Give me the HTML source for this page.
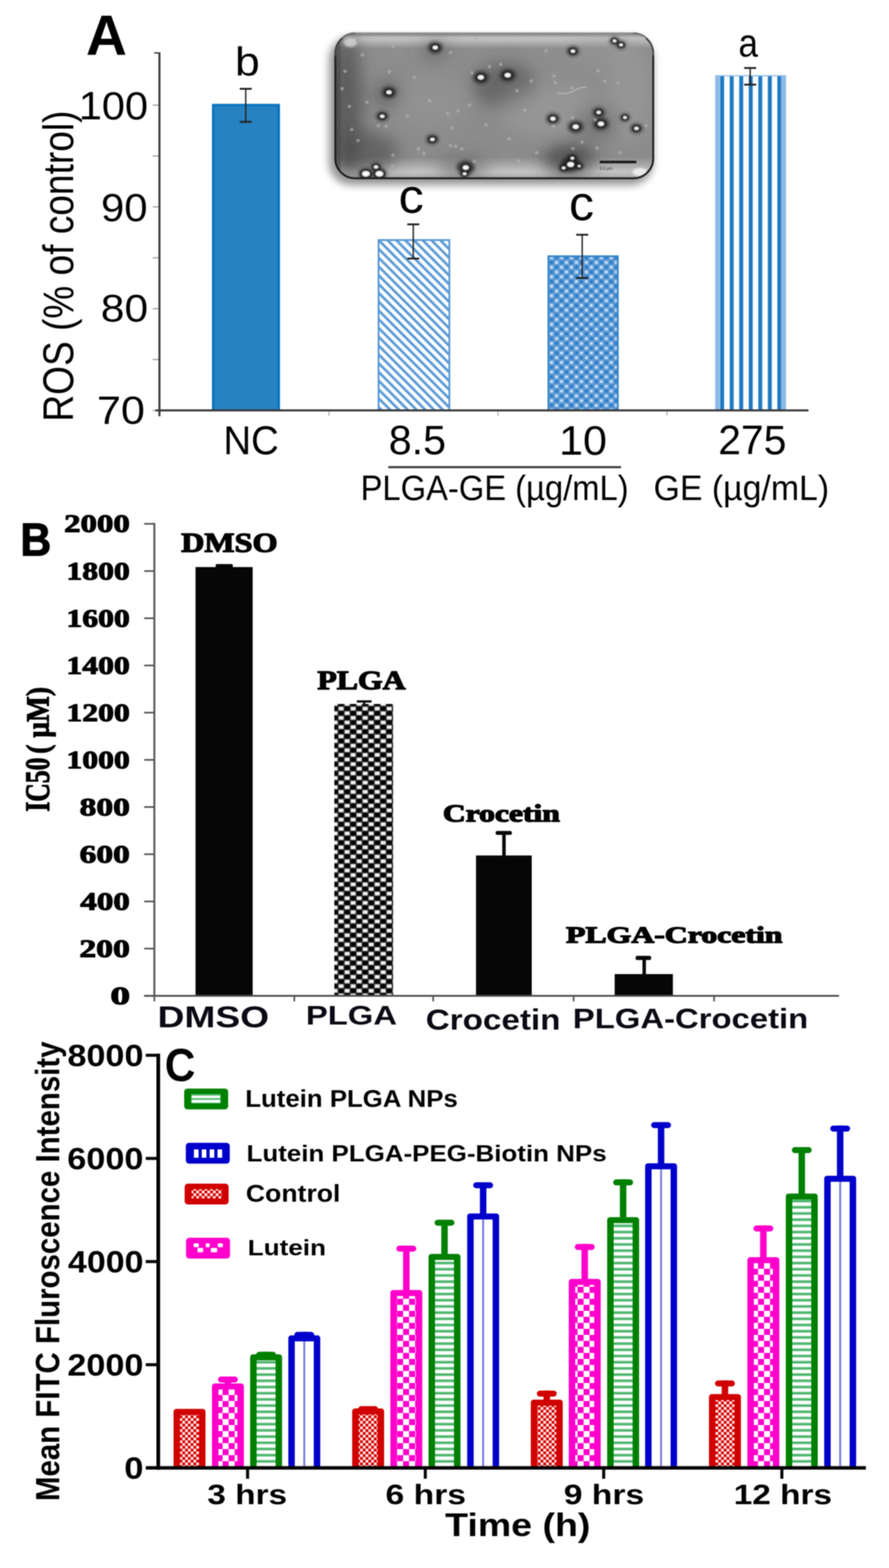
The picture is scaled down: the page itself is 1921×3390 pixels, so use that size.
<!DOCTYPE html>
<html><head><meta charset="utf-8"><title>Figure</title>
<style>html,body{margin:0;padding:0;background:#fff;} body{width:1921px;height:3390px;overflow:hidden;} svg{display:block;filter:blur(1px);}</style>
</head><body>
<svg width="1921" height="3390" viewBox="0 0 1921 3390"><defs>
<pattern id="pDiag" patternUnits="userSpaceOnUse" width="19" height="19" patternTransform="translate(817,518)">
  <rect width="19" height="19" fill="#fff"/>
  <path d="M-5,-5 L24,24 M-5,14 L5,24 M14,-5 L24,5" stroke="#5e9dd7" stroke-width="5.8"/>
</pattern>
<pattern id="pDots" patternUnits="userSpaceOnUse" width="21.5" height="20.6" patternTransform="translate(1186.5,552)">
  <rect width="21.5" height="20.6" fill="#5d9ad6"/>
  <rect x="2" y="2" width="6.75" height="6.3" fill="#c6dcf2"/>
  <rect x="12.75" y="12.3" width="6.75" height="6.3" fill="#c6dcf2"/>
  <rect x="12.75" y="2" width="6.75" height="6.3" fill="#2a7cc6"/>
  <rect x="2" y="12.3" width="6.75" height="6.3" fill="#2a7cc6"/>
</pattern>
<pattern id="pVert" patternUnits="userSpaceOnUse" width="20.6" height="10" patternTransform="translate(1556.2,0)">
  <rect width="20.6" height="10" fill="#fbfdff"/>
  <rect x="0" width="8.5" height="10" fill="#1f78c2"/>
</pattern>
<pattern id="pChkB" patternUnits="userSpaceOnUse" width="26" height="20" patternTransform="translate(730.6,1527)">
  <rect width="26" height="20" fill="#f2f2f2"/>
  <rect x="13" y="0" width="13" height="10" fill="#000"/>
  <rect x="0" y="10" width="13" height="10" fill="#000"/>
  <path d="M0,0 H26 M0,10 H26 M0,20 H26 M0,0 V20 M13,0 V20 M26,0 V20" stroke="#333" stroke-width="2.5"/>
</pattern>
<pattern id="pRed" patternUnits="userSpaceOnUse" width="12" height="12" patternTransform="translate(388,0)">
  <rect width="12" height="12" fill="#fbe6e6"/>
  <rect width="6" height="6" fill="#d40000"/>
  <rect x="6" y="6" width="6" height="6" fill="#d40000"/>
</pattern>
<pattern id="pMag" patternUnits="userSpaceOnUse" width="26" height="26">
  <rect width="26" height="26" fill="#fff"/>
  <rect width="13" height="13" fill="#ff00cc"/>
  <rect x="13" y="13" width="13" height="13" fill="#ff00cc"/>
</pattern>
<pattern id="pGreen" patternUnits="userSpaceOnUse" width="10" height="13.4">
  <rect width="10" height="13.4" fill="#fff"/>
  <rect y="7.6" width="10" height="5.8" fill="#52b872"/>
</pattern>
<filter id="blur1" x="-5%" y="-5%" width="110%" height="110%"><feGaussianBlur stdDeviation="0.8"/></filter>
<filter id="blur3" x="-50%" y="-50%" width="200%" height="200%"><feGaussianBlur stdDeviation="3.5"/></filter>
<filter id="blur2" x="-50%" y="-50%" width="200%" height="200%"><feGaussianBlur stdDeviation="2"/></filter>
<filter id="blurS" x="-20%" y="-20%" width="140%" height="140%"><feGaussianBlur stdDeviation="9"/></filter>
<filter id="blurBg" x="-10%" y="-10%" width="120%" height="120%"><feGaussianBlur stdDeviation="18"/></filter>
<filter id="noise" x="0" y="0" width="100%" height="100%"><feTurbulence type="fractalNoise" baseFrequency="0.35" numOctaves="2" seed="3"/><feColorMatrix type="saturate" values="0"/></filter>
<clipPath id="temClip"><rect x="723" y="70" width="690" height="317" rx="44" ry="44"/></clipPath>
<linearGradient id="temTop" x1="0" y1="0" x2="0" y2="1">
  <stop offset="0" stop-color="#707070"/>
  <stop offset="0.015" stop-color="#8a8a8a"/>
  <stop offset="0.035" stop-color="#c2c2c2"/>
  <stop offset="0.06" stop-color="#b8b8b8"/>
  <stop offset="0.11" stop-color="#8c8c8c"/>
  <stop offset="0.85" stop-color="#8a8a8a"/>
  <stop offset="0.95" stop-color="#c4c4c4"/>
  <stop offset="0.985" stop-color="#b0b0b0"/>
  <stop offset="1" stop-color="#303030"/>
</linearGradient>
</defs><rect width="1921" height="3390" fill="#fff"/><g>
<rect x="711" y="80" width="700" height="320" rx="48" fill="#000" opacity="0.42" filter="url(#blurS)"/>
<g clip-path="url(#temClip)">
<rect x="722" y="70" width="692" height="317" fill="url(#temTop)"/>
<g filter="url(#blurBg)">
<ellipse cx="748" cy="230" rx="35" ry="160" fill="#454545" opacity="0.75"/>
<ellipse cx="790" cy="330" rx="70" ry="45" fill="#454545" opacity="0.6"/>
<ellipse cx="1090" cy="185" rx="70" ry="50" fill="#4a4a4a" opacity="0.6"/>
<ellipse cx="1230" cy="345" rx="55" ry="38" fill="#2e2e2e" opacity="0.65"/>
<ellipse cx="1000" cy="365" rx="55" ry="25" fill="#454545" opacity="0.45"/>
<ellipse cx="840" cy="205" rx="30" ry="30" fill="#404040" opacity="0.55"/>
<ellipse cx="940" cy="110" rx="28" ry="22" fill="#4a4a4a" opacity="0.5"/>
<ellipse cx="1190" cy="240" rx="110" ry="55" fill="#9c9c9c" opacity="0.55"/>
<ellipse cx="930" cy="225" rx="80" ry="55" fill="#979797" opacity="0.45"/>
<ellipse cx="1360" cy="200" rx="45" ry="110" fill="#9e9e9e" opacity="0.5"/>
<ellipse cx="1300" cy="110" rx="60" ry="30" fill="#9a9a9a" opacity="0.4"/>
<ellipse cx="1290" cy="265" rx="45" ry="35" fill="#555555" opacity="0.5"/>
</g>
<rect x="722" y="70" width="692" height="317" filter="url(#noise)" opacity="0.10"/>
<rect x="722" y="71" width="14" height="316" fill="#3a3a3a" opacity="0.5" filter="url(#blur2)"/>
<ellipse cx="757" cy="92" rx="14" ry="10" fill="#d8d8d8" opacity="0.8" filter="url(#blur2)"/>
<ellipse cx="1383" cy="372" rx="16" ry="9" fill="#f0f0f0" opacity="0.9" filter="url(#blur2)"/>
<ellipse cx="940.5" cy="102.7" rx="15.6" ry="12.3" fill="#141414" opacity="0.7" filter="url(#blur3)"/>
<ellipse cx="840.6" cy="199.5" rx="15.6" ry="12.3" fill="#141414" opacity="0.7" filter="url(#blur3)"/>
<ellipse cx="826" cy="251.4" rx="13.2" ry="10.4" fill="#141414" opacity="0.7" filter="url(#blur3)"/>
<ellipse cx="1039" cy="167.3" rx="16.8" ry="13.3" fill="#141414" opacity="0.7" filter="url(#blur3)"/>
<ellipse cx="1097" cy="162.6" rx="16.8" ry="13.3" fill="#141414" opacity="0.7" filter="url(#blur3)"/>
<ellipse cx="934.4" cy="301.4" rx="13.2" ry="10.4" fill="#141414" opacity="0.7" filter="url(#blur3)"/>
<ellipse cx="1006.4" cy="362.3" rx="19.2" ry="15.2" fill="#141414" opacity="0.7" filter="url(#blur3)"/>
<ellipse cx="790.6" cy="375.7" rx="15.6" ry="12.3" fill="#141414" opacity="0.7" filter="url(#blur3)"/>
<ellipse cx="819.8" cy="375.7" rx="15.6" ry="12.3" fill="#141414" opacity="0.7" filter="url(#blur3)"/>
<ellipse cx="812.5" cy="361" rx="10.8" ry="8.5" fill="#141414" opacity="0.7" filter="url(#blur3)"/>
<ellipse cx="1238" cy="110.7" rx="13.2" ry="10.4" fill="#141414" opacity="0.7" filter="url(#blur3)"/>
<ellipse cx="1328" cy="88.4" rx="10.8" ry="8.5" fill="#141414" opacity="0.7" filter="url(#blur3)"/>
<ellipse cx="1342" cy="97" rx="10.8" ry="8.5" fill="#141414" opacity="0.7" filter="url(#blur3)"/>
<ellipse cx="1194.8" cy="256.6" rx="14.4" ry="11.4" fill="#141414" opacity="0.7" filter="url(#blur3)"/>
<ellipse cx="1244" cy="274" rx="16.8" ry="13.3" fill="#141414" opacity="0.7" filter="url(#blur3)"/>
<ellipse cx="1293.7" cy="243" rx="13.2" ry="10.4" fill="#141414" opacity="0.7" filter="url(#blur3)"/>
<ellipse cx="1298.6" cy="267.7" rx="16.8" ry="13.3" fill="#141414" opacity="0.7" filter="url(#blur3)"/>
<ellipse cx="1375.3" cy="277.6" rx="13.2" ry="10.4" fill="#141414" opacity="0.7" filter="url(#blur3)"/>
<ellipse cx="1350.5" cy="254" rx="10.8" ry="8.5" fill="#141414" opacity="0.7" filter="url(#blur3)"/>
<ellipse cx="1233" cy="355.5" rx="20.4" ry="16.1" fill="#141414" opacity="0.7" filter="url(#blur3)"/>
<ellipse cx="1236.8" cy="342" rx="10.8" ry="8.5" fill="#141414" opacity="0.7" filter="url(#blur3)"/>
<ellipse cx="1218" cy="363" rx="10.8" ry="8.5" fill="#141414" opacity="0.7" filter="url(#blur3)"/>
<ellipse cx="1251.6" cy="359" rx="9.6" ry="7.6" fill="#141414" opacity="0.7" filter="url(#blur3)"/>
<ellipse cx="1004" cy="375.7" rx="9.6" ry="7.6" fill="#141414" opacity="0.7" filter="url(#blur3)"/>
<g filter="url(#blur1)">
<ellipse cx="940.5" cy="102.7" rx="9.9" ry="8.0" fill="#161616" opacity="0.85"/>
<ellipse cx="940.5" cy="102.7" rx="6.0" ry="4.3" fill="#fbfbfb"/>
<ellipse cx="840.6" cy="199.5" rx="9.9" ry="8.0" fill="#161616" opacity="0.85"/>
<ellipse cx="840.6" cy="199.5" rx="6.0" ry="4.3" fill="#fbfbfb"/>
<ellipse cx="826" cy="251.4" rx="9.1" ry="7.3" fill="#161616" opacity="0.85"/>
<ellipse cx="826" cy="251.4" rx="5.1" ry="3.7" fill="#fbfbfb"/>
<ellipse cx="1039" cy="167.3" rx="10.8" ry="8.6" fill="#161616" opacity="0.85"/>
<ellipse cx="1039" cy="167.3" rx="6.8" ry="5.0" fill="#fbfbfb"/>
<ellipse cx="1097" cy="162.6" rx="10.8" ry="8.6" fill="#161616" opacity="0.85"/>
<ellipse cx="1097" cy="162.6" rx="6.8" ry="5.0" fill="#fbfbfb"/>
<ellipse cx="934.4" cy="301.4" rx="9.1" ry="7.3" fill="#161616" opacity="0.85"/>
<ellipse cx="934.4" cy="301.4" rx="5.1" ry="3.7" fill="#fbfbfb"/>
<ellipse cx="1006.4" cy="362.3" rx="10.8" ry="8.6" fill="#161616" opacity="0.85"/>
<ellipse cx="1006.4" cy="362.3" rx="6.8" ry="5.0" fill="#fbfbfb"/>
<ellipse cx="790.6" cy="375.7" rx="12.5" ry="10.0" fill="#161616" opacity="0.85"/>
<ellipse cx="790.6" cy="375.7" rx="8.5" ry="6.2" fill="#fbfbfb"/>
<ellipse cx="819.8" cy="375.7" rx="12.5" ry="10.0" fill="#161616" opacity="0.85"/>
<ellipse cx="819.8" cy="375.7" rx="8.5" ry="6.2" fill="#fbfbfb"/>
<ellipse cx="812.5" cy="361" rx="9.1" ry="7.3" fill="#161616" opacity="0.85"/>
<ellipse cx="812.5" cy="361" rx="5.1" ry="3.7" fill="#fbfbfb"/>
<ellipse cx="1238" cy="110.7" rx="9.1" ry="7.3" fill="#161616" opacity="0.85"/>
<ellipse cx="1238" cy="110.7" rx="5.1" ry="3.7" fill="#fbfbfb"/>
<ellipse cx="1328" cy="88.4" rx="8.2" ry="6.6" fill="#161616" opacity="0.85"/>
<ellipse cx="1328" cy="88.4" rx="4.2" ry="3.1" fill="#fbfbfb"/>
<ellipse cx="1342" cy="97" rx="8.2" ry="6.6" fill="#161616" opacity="0.85"/>
<ellipse cx="1342" cy="97" rx="4.2" ry="3.1" fill="#fbfbfb"/>
<ellipse cx="1194.8" cy="256.6" rx="9.9" ry="8.0" fill="#161616" opacity="0.85"/>
<ellipse cx="1194.8" cy="256.6" rx="6.0" ry="4.3" fill="#fbfbfb"/>
<ellipse cx="1244" cy="274" rx="10.8" ry="8.6" fill="#161616" opacity="0.85"/>
<ellipse cx="1244" cy="274" rx="6.8" ry="5.0" fill="#fbfbfb"/>
<ellipse cx="1293.7" cy="243" rx="9.1" ry="7.3" fill="#161616" opacity="0.85"/>
<ellipse cx="1293.7" cy="243" rx="5.1" ry="3.7" fill="#fbfbfb"/>
<ellipse cx="1298.6" cy="267.7" rx="10.8" ry="8.6" fill="#161616" opacity="0.85"/>
<ellipse cx="1298.6" cy="267.7" rx="6.8" ry="5.0" fill="#fbfbfb"/>
<ellipse cx="1375.3" cy="277.6" rx="9.1" ry="7.3" fill="#161616" opacity="0.85"/>
<ellipse cx="1375.3" cy="277.6" rx="5.1" ry="3.7" fill="#fbfbfb"/>
<ellipse cx="1350.5" cy="254" rx="8.2" ry="6.6" fill="#161616" opacity="0.85"/>
<ellipse cx="1350.5" cy="254" rx="4.2" ry="3.1" fill="#fbfbfb"/>
<ellipse cx="1233" cy="355.5" rx="11.6" ry="9.3" fill="#161616" opacity="0.85"/>
<ellipse cx="1233" cy="355.5" rx="7.6" ry="5.6" fill="#fbfbfb"/>
<ellipse cx="1236.8" cy="342" rx="8.2" ry="6.6" fill="#161616" opacity="0.85"/>
<ellipse cx="1236.8" cy="342" rx="4.2" ry="3.1" fill="#fbfbfb"/>
<ellipse cx="1218" cy="363" rx="8.2" ry="6.6" fill="#161616" opacity="0.85"/>
<ellipse cx="1218" cy="363" rx="4.2" ry="3.1" fill="#fbfbfb"/>
<ellipse cx="1251.6" cy="359" rx="7.4" ry="5.9" fill="#161616" opacity="0.85"/>
<ellipse cx="1251.6" cy="359" rx="3.4" ry="2.5" fill="#fbfbfb"/>
<ellipse cx="1004" cy="375.7" rx="8.2" ry="6.6" fill="#161616" opacity="0.85"/>
<ellipse cx="1004" cy="375.7" rx="4.2" ry="3.1" fill="#fbfbfb"/>
<circle cx="745.5" cy="153.9" r="3.5" fill="#b4b4b4" opacity="0.75"/>
<circle cx="841.8" cy="155.6" r="3.5" fill="#b4b4b4" opacity="0.75"/>
<circle cx="895.4" cy="167.3" r="3.5" fill="#b4b4b4" opacity="0.75"/>
<circle cx="928.3" cy="217.3" r="3.5" fill="#b4b4b4" opacity="0.75"/>
<circle cx="1014.9" cy="227" r="3.5" fill="#b4b4b4" opacity="0.75"/>
<circle cx="989.3" cy="239.2" r="3.5" fill="#b4b4b4" opacity="0.75"/>
<circle cx="967.4" cy="245.3" r="3.5" fill="#b4b4b4" opacity="0.75"/>
<circle cx="793" cy="221" r="3.5" fill="#b4b4b4" opacity="0.75"/>
<circle cx="834.5" cy="273.3" r="3.5" fill="#b4b4b4" opacity="0.75"/>
<circle cx="817.4" cy="272" r="3.5" fill="#b4b4b4" opacity="0.75"/>
<circle cx="773.5" cy="303.8" r="3.5" fill="#b4b4b4" opacity="0.75"/>
<circle cx="973.4" cy="314.8" r="3.5" fill="#b4b4b4" opacity="0.75"/>
<circle cx="984.4" cy="316" r="3.5" fill="#b4b4b4" opacity="0.75"/>
<circle cx="997.8" cy="322" r="3.5" fill="#b4b4b4" opacity="0.75"/>
<circle cx="904" cy="322" r="3.5" fill="#b4b4b4" opacity="0.75"/>
<circle cx="916" cy="331.9" r="3.5" fill="#b4b4b4" opacity="0.75"/>
<circle cx="849" cy="335.5" r="3.5" fill="#b4b4b4" opacity="0.75"/>
<circle cx="847.9" cy="358.7" r="3.5" fill="#b4b4b4" opacity="0.75"/>
<circle cx="739.4" cy="191.7" r="3.5" fill="#b4b4b4" opacity="0.75"/>
<circle cx="783.3" cy="118.5" r="3.5" fill="#b4b4b4" opacity="0.75"/>
<circle cx="849" cy="100.2" r="3.5" fill="#b4b4b4" opacity="0.75"/>
<circle cx="973.4" cy="113.6" r="3.5" fill="#b4b4b4" opacity="0.75"/>
<circle cx="1057.6" cy="144" r="3.5" fill="#b4b4b4" opacity="0.75"/>
<circle cx="1030.7" cy="84.4" r="3.5" fill="#b4b4b4" opacity="0.75"/>
<circle cx="977" cy="277" r="3.5" fill="#b4b4b4" opacity="0.75"/>
<circle cx="1024.7" cy="349" r="3.5" fill="#b4b4b4" opacity="0.75"/>
<circle cx="1082" cy="139" r="3.5" fill="#b4b4b4" opacity="0.75"/>
<circle cx="1197" cy="164" r="3.5" fill="#b4b4b4" opacity="0.75"/>
<circle cx="1199.7" cy="178.7" r="3.5" fill="#b4b4b4" opacity="0.75"/>
<circle cx="1307" cy="176" r="3.5" fill="#b4b4b4" opacity="0.75"/>
<circle cx="1335.7" cy="178.7" r="3.5" fill="#b4b4b4" opacity="0.75"/>
<circle cx="1292.4" cy="152.7" r="3.5" fill="#b4b4b4" opacity="0.75"/>
<circle cx="1235.6" cy="190" r="3.5" fill="#b4b4b4" opacity="0.75"/>
<circle cx="1117" cy="196" r="3.5" fill="#b4b4b4" opacity="0.75"/>
<circle cx="1147.8" cy="175" r="3.5" fill="#b4b4b4" opacity="0.75"/>
<circle cx="1134" cy="238" r="3.5" fill="#b4b4b4" opacity="0.75"/>
<circle cx="1120.6" cy="348" r="3.5" fill="#b4b4b4" opacity="0.75"/>
<circle cx="1238" cy="321" r="3.5" fill="#b4b4b4" opacity="0.75"/>
<circle cx="1257.8" cy="307" r="3.5" fill="#b4b4b4" opacity="0.75"/>
<circle cx="1396" cy="271.4" r="3.5" fill="#b4b4b4" opacity="0.75"/>
<circle cx="1236.8" cy="255" r="3.5" fill="#b4b4b4" opacity="0.75"/>
<circle cx="1196" cy="272.7" r="3.5" fill="#b4b4b4" opacity="0.75"/>
<circle cx="1286" cy="259" r="3.5" fill="#b4b4b4" opacity="0.75"/>
<circle cx="1019.8" cy="157.5" r="3.5" fill="#b4b4b4" opacity="0.75"/>
<circle cx="755" cy="230" r="3.5" fill="#b4b4b4" opacity="0.75"/>
<circle cx="760" cy="280" r="3.5" fill="#b4b4b4" opacity="0.75"/>
<circle cx="1100" cy="300" r="3.5" fill="#b4b4b4" opacity="0.75"/>
<circle cx="1160" cy="330" r="3.5" fill="#b4b4b4" opacity="0.75"/>
<circle cx="880" cy="250" r="3.5" fill="#b4b4b4" opacity="0.75"/>
<circle cx="1050" cy="270" r="3.5" fill="#b4b4b4" opacity="0.75"/>
<circle cx="1180" cy="110" r="3.5" fill="#b4b4b4" opacity="0.75"/>
<circle cx="1290" cy="320" r="3.5" fill="#b4b4b4" opacity="0.75"/>
<circle cx="1340" cy="330" r="3.5" fill="#b4b4b4" opacity="0.75"/>
</g>
<path d="M1203,201 Q1225,205 1240,196 Q1255,188 1268,188" stroke="#b8b8b8" stroke-width="3" fill="none" opacity="0.8"/>
<rect x="1296" y="347.5" width="79" height="5.5" fill="#1a1a1a"/>
<text x="1296" y="367" font-family="Liberation Sans, sans-serif" font-size="9" fill="#333">0.2 µm</text>
</g>
<rect x="724.5" y="71.5" width="687" height="314" rx="43" ry="43" fill="none" stroke="#6a6a6a" stroke-width="3"/>
<path d="M724.5,120 V342.5 A43,43 0 0 0 767.5,385.5 H1368.5 A43,43 0 0 0 1411.5,342.5 V120" fill="none" stroke="#1c1c1c" stroke-width="4"/>
<path d="M724.5,125 V110 A43,43 0 0 1 740,83" fill="none" stroke="#333" stroke-width="3.5" opacity="0.8"/>
<path d="M1411.5,125 V110 A43,43 0 0 0 1396,83" fill="none" stroke="#333" stroke-width="3.5" opacity="0.8"/>
<rect x="768" y="70" width="600" height="3.5" fill="#929292"/>
</g>
<line x1="330" y1="227.3" x2="344" y2="227.3" stroke="#9a9a9a" stroke-width="2.5" />
<line x1="330" y1="337.3" x2="344" y2="337.3" stroke="#9a9a9a" stroke-width="2.5" />
<line x1="330" y1="447.3" x2="344" y2="447.3" stroke="#9a9a9a" stroke-width="2.5" />
<line x1="330" y1="557.3" x2="344" y2="557.3" stroke="#9a9a9a" stroke-width="2.5" />
<line x1="330" y1="667.3" x2="344" y2="667.3" stroke="#9a9a9a" stroke-width="2.5" />
<line x1="330" y1="777.3" x2="344" y2="777.3" stroke="#9a9a9a" stroke-width="2.5" />
<line x1="330" y1="887.3" x2="344" y2="887.3" stroke="#9a9a9a" stroke-width="2.5" />
<line x1="333" y1="114.5" x2="344" y2="114.5" stroke="#3a3a3a" stroke-width="3" />
<line x1="711" y1="887" x2="711" y2="899" stroke="#b0b0b0" stroke-width="2.5" />
<line x1="1076" y1="887" x2="1076" y2="899" stroke="#b0b0b0" stroke-width="2.5" />
<line x1="1441" y1="887" x2="1441" y2="899" stroke="#b0b0b0" stroke-width="2.5" />
<rect x="458" y="224.5" width="147" height="663" fill="#0a74be" />
<rect x="463.5" y="229.5" width="136" height="658" fill="#2682c1" />
<rect x="818" y="519" width="153" height="368" fill="url(#pDiag)" stroke="#5a9bd6" stroke-width="4"/>
<rect x="1185" y="554" width="150" height="333" fill="url(#pDots)" stroke="#3a88cc" stroke-width="4"/>
<rect x="1545.5" y="162.5" width="153" height="724.8" fill="#8dbbe6" />
<rect x="1555.5" y="165" width="133" height="722.3" fill="url(#pVert)" />
<line x1="344.5" y1="113" x2="344.5" y2="900" stroke="#3a3a3a" stroke-width="4.5" />
<line x1="336" y1="887.3" x2="1747" y2="887.3" stroke="#3a3a3a" stroke-width="4.5" />
<line x1="531" y1="192" x2="531" y2="263.5" stroke="#222" stroke-width="3" />
<line x1="518" y1="192" x2="544" y2="192" stroke="#222" stroke-width="4" />
<line x1="518" y1="263.5" x2="544" y2="263.5" stroke="#222" stroke-width="4" />
<line x1="893" y1="485" x2="893" y2="559" stroke="#222" stroke-width="3" />
<line x1="880" y1="485" x2="906" y2="485" stroke="#222" stroke-width="4" />
<line x1="880" y1="559" x2="906" y2="559" stroke="#222" stroke-width="4" />
<line x1="1258" y1="507.5" x2="1258" y2="601" stroke="#222" stroke-width="3" />
<line x1="1245" y1="507.5" x2="1271" y2="507.5" stroke="#222" stroke-width="4" />
<line x1="1245" y1="601" x2="1271" y2="601" stroke="#222" stroke-width="4" />
<line x1="1621" y1="147" x2="1621" y2="183" stroke="#222" stroke-width="3" />
<line x1="1608" y1="147" x2="1634" y2="147" stroke="#222" stroke-width="4" />
<line x1="1608" y1="183" x2="1634" y2="183" stroke="#222" stroke-width="4" />
<text x="185.65" y="119.00" font-family="Liberation Sans, Arial, sans-serif" font-weight="bold" font-size="123.11" textLength="88.59" lengthAdjust="spacingAndGlyphs" fill="#000" >A</text>
<text x="170.15" y="257.97" font-family="Liberation Sans, Arial, sans-serif" font-weight="normal" font-size="84.74" textLength="149.96" lengthAdjust="spacingAndGlyphs" fill="#000" >100</text>
<text x="218.26" y="477.97" font-family="Liberation Sans, Arial, sans-serif" font-weight="normal" font-size="84.74" textLength="100.68" lengthAdjust="spacingAndGlyphs" fill="#000" >90</text>
<text x="217.81" y="695.48" font-family="Liberation Sans, Arial, sans-serif" font-weight="normal" font-size="84.04" textLength="102.18" lengthAdjust="spacingAndGlyphs" fill="#000" >80</text>
<text x="209.52" y="916.17" font-family="Liberation Sans, Arial, sans-serif" font-weight="normal" font-size="84.74" textLength="103.72" lengthAdjust="spacingAndGlyphs" fill="#000" >70</text>
<text transform="translate(157.50,911.57) rotate(-90)" x="0" y="0" font-family="Liberation Sans, Arial, sans-serif" font-weight="normal" font-size="93.00" textLength="672.54" lengthAdjust="spacingAndGlyphs" fill="#000" >ROS (% of control)</text>
<text x="507.79" y="163.34" font-family="Liberation Sans, Arial, sans-serif" font-weight="normal" font-size="87.97" textLength="53.55" lengthAdjust="spacingAndGlyphs" fill="#000" >b</text>
<text x="861.37" y="459.99" font-family="Liberation Sans, Arial, sans-serif" font-weight="normal" font-size="103.31" textLength="54.51" lengthAdjust="spacingAndGlyphs" fill="#000" >c</text>
<text x="1229.42" y="476.27" font-family="Liberation Sans, Arial, sans-serif" font-weight="normal" font-size="105.14" textLength="53.93" lengthAdjust="spacingAndGlyphs" fill="#000" >c</text>
<text x="1595.77" y="122.16" font-family="Liberation Sans, Arial, sans-serif" font-weight="normal" font-size="85.79" textLength="42.23" lengthAdjust="spacingAndGlyphs" fill="#000" >a</text>
<text x="482.70" y="982.14" font-family="Liberation Sans, Arial, sans-serif" font-weight="normal" font-size="87.57" textLength="119.76" lengthAdjust="spacingAndGlyphs" fill="#000" >NC</text>
<text x="839.93" y="982.14" font-family="Liberation Sans, Arial, sans-serif" font-weight="normal" font-size="88.28" textLength="123.81" lengthAdjust="spacingAndGlyphs" fill="#000" >8.5</text>
<text x="1207.90" y="982.63" font-family="Liberation Sans, Arial, sans-serif" font-weight="normal" font-size="88.98" textLength="103.75" lengthAdjust="spacingAndGlyphs" fill="#000" >10</text>
<text x="1552.06" y="982.14" font-family="Liberation Sans, Arial, sans-serif" font-weight="normal" font-size="88.28" textLength="147.24" lengthAdjust="spacingAndGlyphs" fill="#000" >275</text>
<line x1="839" y1="1010" x2="1342" y2="1010" stroke="#3a3a3a" stroke-width="4.5" />
<text x="779.20" y="1081.42" font-family="Liberation Sans, Arial, sans-serif" font-weight="normal" font-size="75.10" textLength="579.19" lengthAdjust="spacingAndGlyphs" fill="#000" >PLGA-GE (µg/mL)</text>
<text x="1412.32" y="1081.42" font-family="Liberation Sans, Arial, sans-serif" font-weight="normal" font-size="75.10" textLength="379.21" lengthAdjust="spacingAndGlyphs" fill="#000" >GE (µg/mL)</text>
<line x1="311.5" y1="2153.0" x2="333.5" y2="2153.0" stroke="#505050" stroke-width="3.5" />
<line x1="311.5" y1="2050.9" x2="333.5" y2="2050.9" stroke="#505050" stroke-width="3.5" />
<line x1="311.5" y1="1948.9" x2="333.5" y2="1948.9" stroke="#505050" stroke-width="3.5" />
<line x1="311.5" y1="1846.8" x2="333.5" y2="1846.8" stroke="#505050" stroke-width="3.5" />
<line x1="311.5" y1="1744.8" x2="333.5" y2="1744.8" stroke="#505050" stroke-width="3.5" />
<line x1="311.5" y1="1642.8" x2="333.5" y2="1642.8" stroke="#505050" stroke-width="3.5" />
<line x1="311.5" y1="1540.7" x2="333.5" y2="1540.7" stroke="#505050" stroke-width="3.5" />
<line x1="311.5" y1="1438.7" x2="333.5" y2="1438.7" stroke="#505050" stroke-width="3.5" />
<line x1="311.5" y1="1336.6" x2="333.5" y2="1336.6" stroke="#505050" stroke-width="3.5" />
<line x1="311.5" y1="1234.6" x2="333.5" y2="1234.6" stroke="#505050" stroke-width="3.5" />
<line x1="311.5" y1="1132.5" x2="333.5" y2="1132.5" stroke="#505050" stroke-width="3.5" />
<line x1="333.5" y1="2153" x2="333.5" y2="2165" stroke="#505050" stroke-width="3.5" />
<line x1="636" y1="2153" x2="636" y2="2165" stroke="#505050" stroke-width="3.5" />
<line x1="936" y1="2153" x2="936" y2="2165" stroke="#505050" stroke-width="3.5" />
<line x1="1239.5" y1="2153" x2="1239.5" y2="2165" stroke="#505050" stroke-width="3.5" />
<line x1="1543" y1="2153" x2="1543" y2="2165" stroke="#505050" stroke-width="3.5" />
<rect x="422.5" y="1226" width="123.5" height="927" fill="#060606" />
<rect x="722.5" y="1522" width="127" height="631" fill="url(#pChkB)" />
<rect x="1028.6" y="1849.5" width="120.4" height="303.5" fill="#060606" />
<rect x="1328.2" y="2106" width="125.8" height="47" fill="#060606" />
<rect x="466" y="1219.5" width="37" height="9" rx="3" fill="#060606"/>
<line x1="787" y1="1516" x2="787" y2="1524" stroke="#111" stroke-width="5" />
<line x1="771" y1="1516.5" x2="803" y2="1516.5" stroke="#111" stroke-width="5" />
<line x1="1089" y1="1801" x2="1089" y2="1852" stroke="#060606" stroke-width="7.5" />
<rect x="1071" y="1796.5" width="35" height="8.5" rx="3.5" fill="#060606"/>
<line x1="1392" y1="2071" x2="1392" y2="2108" stroke="#060606" stroke-width="7.5" />
<rect x="1373.5" y="2066.5" width="33.5" height="9" rx="3.5" fill="#060606"/>
<line x1="333.5" y1="1130.5" x2="333.5" y2="2154.5" stroke="#505050" stroke-width="4" />
<line x1="311.5" y1="2153" x2="1813" y2="2153" stroke="#505050" stroke-width="4" />
<text x="44.01" y="1201.40" font-family="Liberation Sans, Arial, sans-serif" font-weight="bold" font-size="100.87" textLength="66.79" lengthAdjust="spacingAndGlyphs" fill="#000"  stroke="#000" stroke-width="2" stroke-linejoin="round">B</text>
<text x="238.46" y="2170.96" font-family="Liberation Serif, Times New Roman, serif" font-weight="bold" font-size="54.83" textLength="42.59" lengthAdjust="spacingAndGlyphs" fill="#000"  stroke="#000" stroke-width="2" stroke-linejoin="round">0</text>
<text x="171.45" y="2068.91" font-family="Liberation Serif, Times New Roman, serif" font-weight="bold" font-size="54.83" textLength="109.13" lengthAdjust="spacingAndGlyphs" fill="#000"  stroke="#000" stroke-width="2" stroke-linejoin="round">200</text>
<text x="173.52" y="1966.86" font-family="Liberation Serif, Times New Roman, serif" font-weight="bold" font-size="54.83" textLength="106.99" lengthAdjust="spacingAndGlyphs" fill="#000"  stroke="#000" stroke-width="2" stroke-linejoin="round">400</text>
<text x="172.03" y="1864.81" font-family="Liberation Serif, Times New Roman, serif" font-weight="bold" font-size="54.83" textLength="108.53" lengthAdjust="spacingAndGlyphs" fill="#000"  stroke="#000" stroke-width="2" stroke-linejoin="round">600</text>
<text x="172.10" y="1762.76" font-family="Liberation Serif, Times New Roman, serif" font-weight="bold" font-size="54.83" textLength="108.45" lengthAdjust="spacingAndGlyphs" fill="#000"  stroke="#000" stroke-width="2" stroke-linejoin="round">800</text>
<text x="143.52" y="1660.71" font-family="Liberation Serif, Times New Roman, serif" font-weight="bold" font-size="54.83" textLength="136.89" lengthAdjust="spacingAndGlyphs" fill="#000"  stroke="#000" stroke-width="2" stroke-linejoin="round">1000</text>
<text x="143.52" y="1558.66" font-family="Liberation Serif, Times New Roman, serif" font-weight="bold" font-size="54.83" textLength="136.89" lengthAdjust="spacingAndGlyphs" fill="#000"  stroke="#000" stroke-width="2" stroke-linejoin="round">1200</text>
<text x="143.52" y="1456.61" font-family="Liberation Serif, Times New Roman, serif" font-weight="bold" font-size="54.83" textLength="136.89" lengthAdjust="spacingAndGlyphs" fill="#000"  stroke="#000" stroke-width="2" stroke-linejoin="round">1400</text>
<text x="143.52" y="1354.56" font-family="Liberation Serif, Times New Roman, serif" font-weight="bold" font-size="54.83" textLength="136.89" lengthAdjust="spacingAndGlyphs" fill="#000"  stroke="#000" stroke-width="2" stroke-linejoin="round">1600</text>
<text x="143.52" y="1252.51" font-family="Liberation Serif, Times New Roman, serif" font-weight="bold" font-size="54.83" textLength="136.89" lengthAdjust="spacingAndGlyphs" fill="#000"  stroke="#000" stroke-width="2" stroke-linejoin="round">1800</text>
<text x="138.62" y="1150.46" font-family="Liberation Serif, Times New Roman, serif" font-weight="bold" font-size="54.83" textLength="141.88" lengthAdjust="spacingAndGlyphs" fill="#000"  stroke="#000" stroke-width="2" stroke-linejoin="round">2000</text>
<text transform="translate(106.28,1754.87) rotate(-90)" x="0" y="0" font-family="Liberation Serif, Times New Roman, serif" font-weight="bold" font-size="74.10" textLength="116.98" lengthAdjust="spacingAndGlyphs" fill="#000"  stroke="#000" stroke-width="2" stroke-linejoin="round">IC50</text>
<text transform="translate(104.97,1629.60) rotate(-90)" x="0" y="0" font-family="Liberation Serif, Times New Roman, serif" font-weight="bold" font-size="70.58" textLength="144.20" lengthAdjust="spacingAndGlyphs" fill="#000"  stroke="#000" stroke-width="2" stroke-linejoin="round">( µM)</text>
<text x="391.53" y="1193.18" font-family="Liberation Serif, Times New Roman, serif" font-weight="bold" font-size="58.79" textLength="208.11" lengthAdjust="spacingAndGlyphs" fill="#000"  stroke="#000" stroke-width="2.5" stroke-linejoin="round">DMSO</text>
<text x="685.78" y="1490.20" font-family="Liberation Serif, Times New Roman, serif" font-weight="bold" font-size="56.56" textLength="190.47" lengthAdjust="spacingAndGlyphs" fill="#000"  stroke="#000" stroke-width="2.5" stroke-linejoin="round">PLGA</text>
<text x="956.93" y="1776.23" font-family="Liberation Serif, Times New Roman, serif" font-weight="bold" font-size="53.30" textLength="252.85" lengthAdjust="spacingAndGlyphs" fill="#000"  stroke="#000" stroke-width="2.5" stroke-linejoin="round">Crocetin</text>
<text x="1223.08" y="2038.25" font-family="Liberation Serif, Times New Roman, serif" font-weight="bold" font-size="51.16" textLength="467.71" lengthAdjust="spacingAndGlyphs" fill="#000"  stroke="#000" stroke-width="2.5" stroke-linejoin="round">PLGA-Crocetin</text>
<text x="340.63" y="2221.36" font-family="Liberation Sans, Arial, sans-serif" font-weight="bold" font-size="65.25" textLength="240.74" lengthAdjust="spacingAndGlyphs" fill="#0a0a14" >DMSO</text>
<text x="660.96" y="2215.45" font-family="Liberation Sans, Arial, sans-serif" font-weight="bold" font-size="56.78" textLength="196.91" lengthAdjust="spacingAndGlyphs" fill="#0a0a14" >PLGA</text>
<text x="920.06" y="2226.39" font-family="Liberation Sans, Arial, sans-serif" font-weight="bold" font-size="62.64" textLength="290.99" lengthAdjust="spacingAndGlyphs" fill="#0a0a14" >Crocetin</text>
<text x="1237.85" y="2223.40" font-family="Liberation Sans, Arial, sans-serif" font-weight="bold" font-size="61.28" textLength="508.55" lengthAdjust="spacingAndGlyphs" fill="#0a0a14" >PLGA-Crocetin</text>
<rect x="375" y="3046" width="69" height="127.5" rx="6" fill="#d10000"/>
<rect x="389" y="3059" width="41" height="114.5" fill="url(#pRed)"/>
<line x1="492.5" y1="2976" x2="492.5" y2="2993" stroke="#ff00cc" stroke-width="14" />
<line x1="477.5" y1="2982.5" x2="507.5" y2="2982.5" stroke="#ff00cc" stroke-width="13" stroke-linecap="round"/>
<rect x="458" y="2991" width="69" height="182.5" rx="6" fill="#ff00cc"/>
<rect x="472" y="3004" width="41" height="169.5" fill="url(#pMag)"/>
<line x1="575.0" y1="2922.5" x2="575.0" y2="2930" stroke="#008000" stroke-width="14" />
<line x1="560.0" y1="2929.0" x2="590.0" y2="2929.0" stroke="#008000" stroke-width="13" stroke-linecap="round"/>
<rect x="540.5" y="2928" width="69" height="245.5" rx="6" fill="#008000"/>
<rect x="554.5" y="2941" width="41" height="232.5" fill="url(#pGreen)"/>
<line x1="657.5" y1="2879.5" x2="657.5" y2="2889" stroke="#0000cc" stroke-width="14" />
<line x1="642.5" y1="2886.0" x2="672.5" y2="2886.0" stroke="#0000cc" stroke-width="13" stroke-linecap="round"/>
<rect x="623" y="2887" width="69" height="286.5" rx="6" fill="#0000cc"/>
<rect x="637" y="2900" width="41" height="273.5" fill="#fff"/>
<line x1="657.5" y1="2900" x2="657.5" y2="3173.5" stroke="#7474e0" stroke-width="4" />
<line x1="795.5" y1="3040" x2="795.5" y2="3047" stroke="#d10000" stroke-width="14" />
<line x1="780.5" y1="3046.5" x2="810.5" y2="3046.5" stroke="#d10000" stroke-width="13" stroke-linecap="round"/>
<rect x="761" y="3045" width="69" height="128.5" rx="6" fill="#d10000"/>
<rect x="775" y="3058" width="41" height="115.5" fill="url(#pRed)"/>
<line x1="878.0" y1="2693" x2="878.0" y2="2791" stroke="#ff00cc" stroke-width="14" />
<line x1="863.0" y1="2699.5" x2="893.0" y2="2699.5" stroke="#ff00cc" stroke-width="13" stroke-linecap="round"/>
<rect x="843.5" y="2789" width="69" height="384.5" rx="6" fill="#ff00cc"/>
<rect x="857.5" y="2802" width="41" height="371.5" fill="url(#pMag)"/>
<line x1="960.5" y1="2637" x2="960.5" y2="2713" stroke="#008000" stroke-width="14" />
<line x1="945.5" y1="2643.5" x2="975.5" y2="2643.5" stroke="#008000" stroke-width="13" stroke-linecap="round"/>
<rect x="926" y="2711" width="69" height="462.5" rx="6" fill="#008000"/>
<rect x="940" y="2724" width="41" height="449.5" fill="url(#pGreen)"/>
<line x1="1044.0" y1="2556" x2="1044.0" y2="2625.5" stroke="#0000cc" stroke-width="14" />
<line x1="1029.0" y1="2562.5" x2="1059.0" y2="2562.5" stroke="#0000cc" stroke-width="13" stroke-linecap="round"/>
<rect x="1009.5" y="2623.5" width="69" height="550.0" rx="6" fill="#0000cc"/>
<rect x="1023.5" y="2636.5" width="41" height="537.0" fill="#fff"/>
<line x1="1044.0" y1="2636.5" x2="1044.0" y2="3173.5" stroke="#7474e0" stroke-width="4" />
<line x1="1181.5" y1="3006.5" x2="1181.5" y2="3028" stroke="#d10000" stroke-width="14" />
<line x1="1166.5" y1="3013.0" x2="1196.5" y2="3013.0" stroke="#d10000" stroke-width="13" stroke-linecap="round"/>
<rect x="1147" y="3026" width="69" height="147.5" rx="6" fill="#d10000"/>
<rect x="1161" y="3039" width="41" height="134.5" fill="url(#pRed)"/>
<line x1="1263.5" y1="2689.5" x2="1263.5" y2="2767" stroke="#ff00cc" stroke-width="14" />
<line x1="1248.5" y1="2696.0" x2="1278.5" y2="2696.0" stroke="#ff00cc" stroke-width="13" stroke-linecap="round"/>
<rect x="1229" y="2765" width="69" height="408.5" rx="6" fill="#ff00cc"/>
<rect x="1243" y="2778" width="41" height="395.5" fill="url(#pMag)"/>
<line x1="1346.5" y1="2549.8" x2="1346.5" y2="2633.4" stroke="#008000" stroke-width="14" />
<line x1="1331.5" y1="2556.3" x2="1361.5" y2="2556.3" stroke="#008000" stroke-width="13" stroke-linecap="round"/>
<rect x="1312" y="2631.4" width="69" height="542.0999999999999" rx="6" fill="#008000"/>
<rect x="1326" y="2644.4" width="41" height="529.0999999999999" fill="url(#pGreen)"/>
<line x1="1428.5" y1="2426" x2="1428.5" y2="2517" stroke="#0000cc" stroke-width="14" />
<line x1="1413.5" y1="2432.5" x2="1443.5" y2="2432.5" stroke="#0000cc" stroke-width="13" stroke-linecap="round"/>
<rect x="1394" y="2515" width="69" height="658.5" rx="6" fill="#0000cc"/>
<rect x="1408" y="2528" width="41" height="645.5" fill="#fff"/>
<line x1="1428.5" y1="2528" x2="1428.5" y2="3173.5" stroke="#7474e0" stroke-width="4" />
<line x1="1566.5" y1="2984.5" x2="1566.5" y2="3016" stroke="#d10000" stroke-width="14" />
<line x1="1551.5" y1="2991.0" x2="1581.5" y2="2991.0" stroke="#d10000" stroke-width="13" stroke-linecap="round"/>
<rect x="1532" y="3014" width="69" height="159.5" rx="6" fill="#d10000"/>
<rect x="1546" y="3027" width="41" height="146.5" fill="url(#pRed)"/>
<line x1="1649.5" y1="2649.5" x2="1649.5" y2="2720" stroke="#ff00cc" stroke-width="14" />
<line x1="1634.5" y1="2656.0" x2="1664.5" y2="2656.0" stroke="#ff00cc" stroke-width="13" stroke-linecap="round"/>
<rect x="1615" y="2718" width="69" height="455.5" rx="6" fill="#ff00cc"/>
<rect x="1629" y="2731" width="41" height="442.5" fill="url(#pMag)"/>
<line x1="1732.5" y1="2480" x2="1732.5" y2="2582.5" stroke="#008000" stroke-width="14" />
<line x1="1717.5" y1="2486.5" x2="1747.5" y2="2486.5" stroke="#008000" stroke-width="13" stroke-linecap="round"/>
<rect x="1698" y="2580.5" width="69" height="593.0" rx="6" fill="#008000"/>
<rect x="1712" y="2593.5" width="41" height="580.0" fill="url(#pGreen)"/>
<line x1="1815.5" y1="2433.5" x2="1815.5" y2="2544" stroke="#0000cc" stroke-width="14" />
<line x1="1800.5" y1="2440.0" x2="1830.5" y2="2440.0" stroke="#0000cc" stroke-width="13" stroke-linecap="round"/>
<rect x="1781" y="2542" width="69" height="631.5" rx="6" fill="#0000cc"/>
<rect x="1795" y="2555" width="41" height="618.5" fill="#fff"/>
<line x1="1815.5" y1="2555" x2="1815.5" y2="3173.5" stroke="#7474e0" stroke-width="4" />
<line x1="315" y1="3173.5" x2="342" y2="3173.5" stroke="#000" stroke-width="6.5" />
<line x1="315" y1="2950.5" x2="342" y2="2950.5" stroke="#000" stroke-width="6.5" />
<line x1="315" y1="2727.5" x2="342" y2="2727.5" stroke="#000" stroke-width="6.5" />
<line x1="315" y1="2504.5" x2="342" y2="2504.5" stroke="#000" stroke-width="6.5" />
<line x1="315" y1="2281.5" x2="342" y2="2281.5" stroke="#000" stroke-width="6.5" />
<line x1="535" y1="3173.5" x2="535" y2="3197" stroke="#000" stroke-width="6.5" />
<line x1="919" y1="3173.5" x2="919" y2="3197" stroke="#000" stroke-width="6.5" />
<line x1="1304.5" y1="3173.5" x2="1304.5" y2="3197" stroke="#000" stroke-width="6.5" />
<line x1="1689.5" y1="3173.5" x2="1689.5" y2="3197" stroke="#000" stroke-width="6.5" />
<line x1="342" y1="2278" x2="342" y2="3177.5" stroke="#000" stroke-width="8" />
<line x1="315" y1="3173.5" x2="1871" y2="3173.5" stroke="#000" stroke-width="7.5" />
<rect x="398" y="2353.5" width="95" height="45" rx="7" fill="#008000"/>
<rect x="401.5" y="2470.7" width="95" height="45" rx="7" fill="#0000cc"/>
<rect x="399" y="2559" width="95" height="45" rx="7" fill="#d10000"/>
<rect x="402" y="2676" width="95" height="45" rx="7" fill="#ff00cc"/>
<rect x="413" y="2365.5" width="64" height="20" fill="#5fc07c"/>
<rect x="414" y="2369" width="62" height="5" rx="2.5" fill="#fff"/><rect x="414" y="2378" width="62" height="6" rx="3" fill="#fff"/>
<rect x="419" y="2485" width="10" height="18" fill="#fff"/>
<rect x="436" y="2485" width="10" height="18" fill="#fff"/>
<rect x="453" y="2485" width="10" height="18" fill="#fff"/>
<rect x="470" y="2485" width="10" height="18" fill="#fff"/>
<rect x="414" y="2571" width="65" height="20" fill="url(#pRed)"/>
<rect x="418.5" y="2688" width="11" height="8.6" rx="2" fill="#fff"/>
<rect x="444.6" y="2688" width="8.5" height="8.6" rx="2" fill="#fff"/>
<rect x="470.7" y="2688" width="11" height="8.6" rx="2" fill="#fff"/>
<rect x="426.7" y="2698" width="12.3" height="9.6" rx="2" fill="#fff"/>
<rect x="455.5" y="2698" width="13.8" height="9.6" rx="2" fill="#fff"/>
<text x="355.94" y="2336.83" font-family="Liberation Sans, Arial, sans-serif" font-weight="bold" font-size="99.29" textLength="66.16" lengthAdjust="spacingAndGlyphs" fill="#000" >C</text>
<text x="268.55" y="3196.85" font-family="Liberation Sans, Arial, sans-serif" font-weight="bold" font-size="66.38" textLength="41.51" lengthAdjust="spacingAndGlyphs" fill="#000" >0</text>
<text x="145.43" y="2973.85" font-family="Liberation Sans, Arial, sans-serif" font-weight="bold" font-size="66.38" textLength="164.60" lengthAdjust="spacingAndGlyphs" fill="#000" >2000</text>
<text x="146.89" y="2750.85" font-family="Liberation Sans, Arial, sans-serif" font-weight="bold" font-size="66.38" textLength="163.12" lengthAdjust="spacingAndGlyphs" fill="#000" >4000</text>
<text x="145.29" y="2527.85" font-family="Liberation Sans, Arial, sans-serif" font-weight="bold" font-size="66.38" textLength="164.75" lengthAdjust="spacingAndGlyphs" fill="#000" >6000</text>
<text x="145.65" y="2304.85" font-family="Liberation Sans, Arial, sans-serif" font-weight="bold" font-size="66.38" textLength="164.38" lengthAdjust="spacingAndGlyphs" fill="#000" >8000</text>
<text transform="translate(128.08,3245.26) rotate(-90)" x="0" y="0" font-family="Liberation Sans, Arial, sans-serif" font-weight="bold" font-size="71.88" textLength="993.60" lengthAdjust="spacingAndGlyphs" fill="#000" >Mean FITC Fluroscence Intensity</text>
<text x="529.99" y="2393.49" font-family="Liberation Sans, Arial, sans-serif" font-weight="bold" font-size="52.43" textLength="459.29" lengthAdjust="spacingAndGlyphs" fill="#000" >Lutein PLGA NPs</text>
<text x="532.75" y="2510.51" font-family="Liberation Sans, Arial, sans-serif" font-weight="bold" font-size="50.38" textLength="778.05" lengthAdjust="spacingAndGlyphs" fill="#000" >Lutein PLGA-PEG-Biotin NPs</text>
<text x="531.34" y="2598.49" font-family="Liberation Sans, Arial, sans-serif" font-weight="bold" font-size="52.02" textLength="204.22" lengthAdjust="spacingAndGlyphs" fill="#000" >Control</text>
<text x="535.22" y="2714.13" font-family="Liberation Sans, Arial, sans-serif" font-weight="bold" font-size="48.48" textLength="169.27" lengthAdjust="spacingAndGlyphs" fill="#000" >Lutein</text>
<text x="448.05" y="3252.32" font-family="Liberation Sans, Arial, sans-serif" font-weight="bold" font-size="60.20" textLength="172.21" lengthAdjust="spacingAndGlyphs" fill="#000" >3 hrs</text>
<text x="833.03" y="3252.41" font-family="Liberation Sans, Arial, sans-serif" font-weight="bold" font-size="60.32" textLength="173.95" lengthAdjust="spacingAndGlyphs" fill="#000" >6 hrs</text>
<text x="1218.18" y="3252.41" font-family="Liberation Sans, Arial, sans-serif" font-weight="bold" font-size="60.32" textLength="173.80" lengthAdjust="spacingAndGlyphs" fill="#000" >9 hrs</text>
<text x="1585.46" y="3252.41" font-family="Liberation Sans, Arial, sans-serif" font-weight="bold" font-size="60.32" textLength="212.50" lengthAdjust="spacingAndGlyphs" fill="#000" >12 hrs</text>
<text x="961.89" y="3321.18" font-family="Liberation Sans, Arial, sans-serif" font-weight="bold" font-size="69.95" textLength="313.93" lengthAdjust="spacingAndGlyphs" fill="#000" >Time (h)</text></svg>
</body></html>
